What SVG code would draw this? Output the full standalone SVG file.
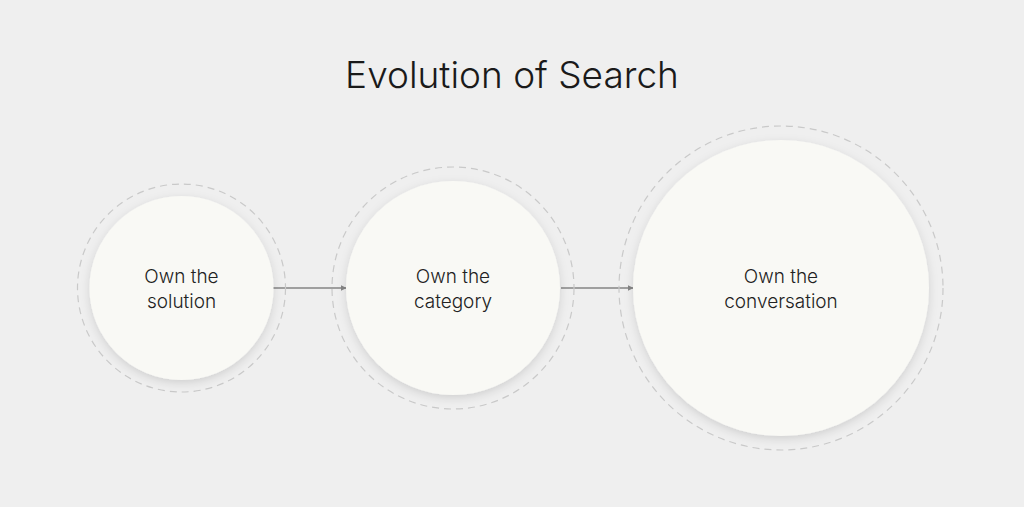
<svg xmlns="http://www.w3.org/2000/svg" width="1024" height="507" viewBox="0 0 1024 507">
  <style>
    .title { font-family: Inter, "Noto Sans", "Liberation Sans", sans-serif; font-weight: 300; font-size: 37px; fill: #1a1a1a; }
    .label { font-family: Inter, "Noto Sans", "Liberation Sans", sans-serif; font-weight: 300; font-size: 19px; fill: #222222; }
    .ring { fill: none; stroke: #c9c9c9; stroke-width: 1.2; stroke-dasharray: 7 5; }
    .disc { fill: #f9f9f5; filter: url(#shadow); }
    .conn { stroke: #858585; stroke-width: 1.5; fill: none; marker-end: url(#arrow); }
  </style>
  <defs>
    <filter id="shadow" x="-20%" y="-20%" width="140%" height="140%">
      <feDropShadow dx="0" dy="3" stdDeviation="5" flood-color="#000000" flood-opacity="0.13"/>
    </filter>
    <marker id="arrow" viewBox="0 0 10 10" refX="9" refY="5" markerWidth="6" markerHeight="6" markerUnits="userSpaceOnUse" orient="auto">
      <path d="M0,0 L10,5 L0,10 z" fill="#858585"/>
    </marker>
  </defs>
  <rect width="1024" height="507" fill="#efefef"/>
  <text class="title" x="512" y="88" text-anchor="middle">Evolution of Search</text>

  <g id="connectors">
    <line class="conn" x1="273" y1="288" x2="346" y2="288"/>
    <line class="conn" x1="561" y1="288" x2="633" y2="288"/>
  </g>

  <g id="node-solution">
    <circle class="ring" cx="181.5" cy="288" r="104"/>
    <circle class="disc" cx="181.5" cy="288" r="92"/>
    <text class="label" x="181.5" text-anchor="middle"><tspan x="181.5" y="283">Own the</tspan><tspan x="181.5" y="308">solution</tspan></text>
  </g>

  <g id="node-category">
    <circle class="ring" cx="453" cy="288" r="121"/>
    <circle class="disc" cx="453" cy="288" r="107"/>
    <text class="label" x="453" text-anchor="middle"><tspan x="453" y="283">Own the</tspan><tspan x="453" y="308">category</tspan></text>
  </g>

  <g id="node-conversation">
    <circle class="ring" cx="781" cy="288" r="162"/>
    <circle class="disc" cx="781" cy="288" r="148"/>
    <text class="label" x="781" text-anchor="middle"><tspan x="781" y="283">Own the</tspan><tspan x="781" y="308">conversation</tspan></text>
  </g>
</svg>
